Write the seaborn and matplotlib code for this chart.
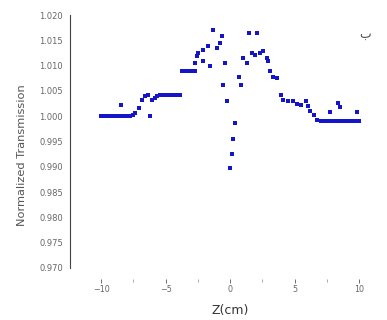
import matplotlib
matplotlib.use("Agg")
import matplotlib.pyplot as plt
import seaborn as sns
import pandas as pd
from matplotlib.ticker import MultipleLocator, FormatStrFormatter

z_cm = [-10.0, -9.75, -9.5, -9.25, -9.0, -8.75, -8.5, -8.25, -8.0, -7.75, -7.5,
        -8.45, -7.35, -7.1, -6.8, -6.6, -6.35, -6.05, -6.2, -5.8, -5.65,
        -5.4, -5.1, -4.8, -4.5, -4.2, -3.9,
        -3.7, -3.45, -3.2, -2.95, -2.7,
        -2.55, -2.7, -2.5, -2.1, -1.7, -2.1, -1.55, -1.3, -1.0, -0.8, -0.6,
        -0.4, -0.55, -0.25, 0.4, 0.2, 0.15, -0.05,
        0.7, 0.85, 1.0, 1.3, 1.45, 2.1, 1.7, 1.95, 2.3, 2.55, 2.85, 2.95,
        3.1, 3.35, 3.65, 3.9, 4.1, 4.5, 4.9, 5.2, 5.45, 5.9, 6.0, 6.2, 6.45, 6.75,
        7.0, 7.25, 7.5, 7.75, 8.0, 8.25, 8.5, 8.75, 9.0, 9.25, 9.5, 9.75, 10.0,
        7.75, 8.35, 8.5, 9.85]
transmission = [1.0000, 1.0000, 1.0000, 1.0000, 1.0000, 1.0000, 1.0000, 1.0000, 1.0000, 1.0000, 1.0002,
                1.0022, 1.0006, 1.0016, 1.0032, 1.0040, 1.0042, 1.0032, 1.0000, 1.0036, 1.0040,
                1.0042, 1.0042, 1.0042, 1.0042, 1.0042, 1.0042,
                1.0089, 1.0089, 1.0089, 1.0089, 1.0089,
                1.0119, 1.0105, 1.0125, 1.0130, 1.0138, 1.0109, 1.0099, 1.0170, 1.0134, 1.0144, 1.0158,
                1.0105, 1.0061, 1.0030, 0.9986, 0.9955, 0.9925, 0.9897,
                1.0077, 1.0061, 1.0115, 1.0105, 1.0164, 1.0164, 1.0125, 1.0121, 1.0125, 1.0128, 1.0115, 1.0109,
                1.0089, 1.0077, 1.0075, 1.0042, 1.0032, 1.0030, 1.0030, 1.0024, 1.0022, 1.0030, 1.0020, 1.0010, 1.0002, 0.9992,
                0.9990, 0.9990, 0.9990, 0.9990, 0.9990, 0.9990, 0.9990, 0.9990, 0.9990, 0.9990, 0.9990, 0.9990, 0.9990,
                1.0008, 1.0026, 1.0018, 1.0008]

y_ticks = [0.970, 0.975, 0.980, 0.985, 0.990, 0.995, 1.000, 1.005, 1.010, 1.015, 1.020]
x_ticks = [-10, -5, 0, 5, 10]
panel_label = "ب"

df = pd.DataFrame({"z": z_cm, "T": transmission})

sns.set_style("white")
plt.rcParams["font.family"] = ["DejaVu Sans"]
fig = plt.figure(figsize=(3.87, 3.20), dpi=100)
ax = fig.add_axes([0.181, 0.1625, 0.801, 0.7905])

sns.scatterplot(data=df, x="z", y="T", ax=ax, marker="s", s=12,
                color="#1414c8", linewidth=0, legend=False)

ax.set_xlim(-12.4, 11.6)
ax.set_ylim(0.970, 1.020)
ax.set_yticks(y_ticks)
ax.set_xticks(x_ticks)
ax.yaxis.set_major_formatter(FormatStrFormatter("%.3f"))
ax.yaxis.set_minor_locator(MultipleLocator(0.0025))
ax.xaxis.set_minor_locator(MultipleLocator(2.5))

for s in ["top", "right"]:
    ax.spines[s].set_visible(False)
ax.spines["left"].set_color("#444444")
ax.spines["left"].set_linewidth(0.8)
ax.spines["bottom"].set_position(("outward", 8))
ax.spines["bottom"].set_color("none")

ax.tick_params(axis="y", which="major", direction="out", length=3, width=0.6,
               color="#555555", labelsize=6, labelcolor="#666666", pad=2)
ax.tick_params(axis="y", which="minor", direction="out", length=1.8, width=0.5, color="#555555")
ax.tick_params(axis="x", which="major", direction="out", length=3, width=0.6,
               color="#555555", labelsize=5.8, labelcolor="#666666", pad=1, bottom=True)
ax.tick_params(axis="x", which="minor", direction="out", length=1.8, width=0.5,
               color="#888888", bottom=True)

ax.set_xlabel("Z(cm)", fontsize=9, color="#333333", va="center")
ax.set_ylabel("Normalized Transmission", fontsize=8.2, color="#555555", va="center")
ax.xaxis.set_label_coords(0.516, -0.168)
ax.yaxis.set_label_coords(-0.155, 0.447)

fig.text(365 / 387, 1 - 34 / 320, panel_label, fontsize=9, color="#555555",
         family="DejaVu Sans", ha="center", va="center")

fig.savefig("out.png", dpi=100)
